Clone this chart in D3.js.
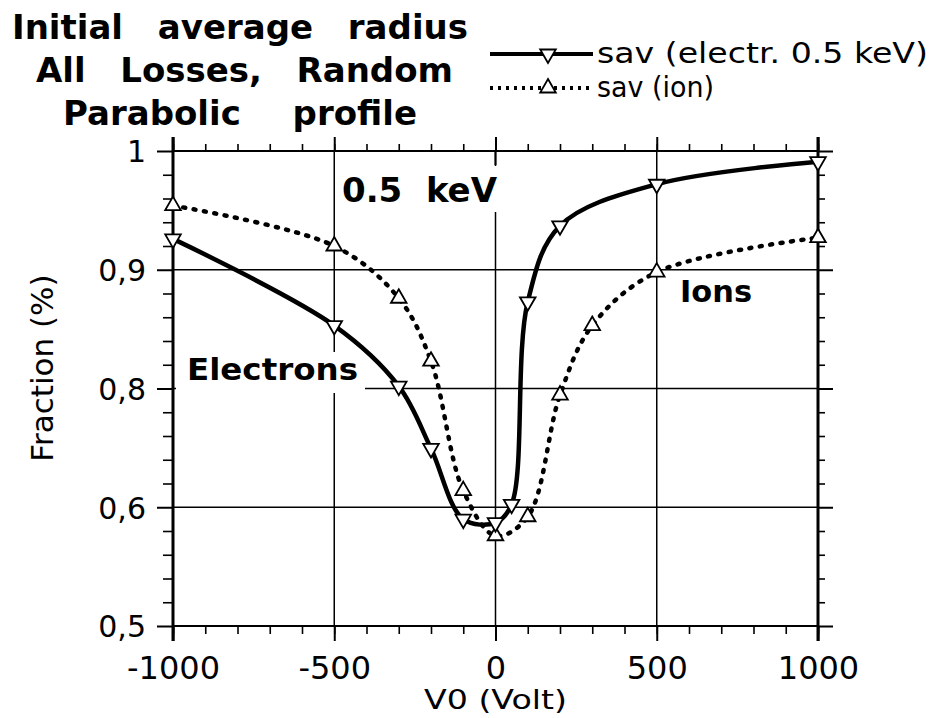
<!DOCTYPE html>
<html>
<head>
<meta charset="utf-8">
<script src="https://cdn.jsdelivr.net/npm/d3@7/dist/d3.min.js"></script>
<style>
  body { margin: 0; background: #fff; }
  svg { display: block; }
  text { fill: #000; }
</style>
</head>
<body>
<div id="chart"></div>
<script>
// V0 values the runs were done at
var volts_e = [-1000, -500, -300, -200, -100, 0, 50, 100, 200, 500, 1000];
var volts_i = [-1000, -500, -300, -200, -100, 0, 100, 200, 300, 500, 1000];
// fraction (in the units of the printed tick labels)
var frac_e = [0.926, 0.853, 0.802, 0.699, 0.590, 0.587, 0.605, 0.873, 0.937, 0.972, 0.991];
var frac_i = [0.954, 0.920, 0.876, 0.823, 0.628, 0.576, 0.592, 0.789, 0.853, 0.898, 0.927];

var x_ticks = [-1000, -500, 0, 500, 1000];
var y_ticks = [0.5, 0.6, 0.8, 0.9, 1];
var y_labels = ["0,5", "0,6", "0,8", "0,9", "1"];
var title_lines = ["Initial average radius", "All Losses, Random", "Parabolic profile"];
var legend_names = ["sav (electr. 0.5 keV)", "sav (ion)"];

var W = 931, H = 718;
var svg = d3.select("#chart").append("svg")
    .attr("width", W).attr("height", H);

// careful: "top" is taken by window.top
var p_left = 173, p_right = 818, p_top = 151, p_bottom = 626;

var x = d3.scaleLinear().domain([-1000, 1000]).range([p_left, p_right]);
// the printed axis skips 0,7 so labels sit at equal steps: piecewise scale
var y = d3.scaleLinear().domain(y_ticks)
    .range(d3.range(y_ticks.length).map(function(i){
	return p_bottom - i * (p_bottom - p_top) / (y_ticks.length - 1);
    }));

// minor ticks: 100 V steps, 5 subdivisions per labelled interval
var x_minor = d3.range(-1000, 1001, 100);
var y_minor = [];
for (var k = 0; k < y_ticks.length - 1; k++){
    var a = y_ticks[k], b = y_ticks[k + 1];
    for (var j = 1; j < 5; j++) y_minor.push(a + (b - a) * j / 5);
}

// grid
var grid = svg.append("g").attr("stroke", "#000").attr("stroke-width", 1.5);
[0.6, 0.8, 0.9].forEach(function(v){
    grid.append("line").attr("x1", p_left).attr("x2", p_right)
	.attr("y1", y(v)).attr("y2", y(v));
});
[-500, 0, 500].forEach(function(v){
    grid.append("line").attr("x1", x(v)).attr("x2", x(v))
	.attr("y1", p_top).attr("y2", p_bottom);
});

// white patches behind the in-plot labels (grid is broken there)
svg.append("rect").attr("x", 338).attr("y", 166).attr("width", 160).attr("height", 46)
    .attr("fill", "#fff");
svg.append("rect").attr("x", 176).attr("y", 352).attr("width", 189).attr("height", 41)
    .attr("fill", "#fff");

function style_axis(g, w){
    g.select(".domain").remove();
    g.selectAll("line").attr("stroke", "#000").attr("stroke-width", w);
}

// bottom
var gb = svg.append("g").attr("transform", "translate(0," + p_bottom + ")");
gb.call(d3.axisBottom(x).tickValues(x_minor).tickSize(8).tickFormat(""));
style_axis(gb, 1.6);
var gb2 = svg.append("g").attr("transform", "translate(0," + p_bottom + ")");
gb2.call(d3.axisBottom(x).tickValues(x_ticks).tickSize(15).tickPadding(15)
	 .tickFormat(function(d){ return d3.format("d")(d).replace("−", "-"); }));
style_axis(gb2, 2);
gb2.selectAll("text").attr("font-family", "DejaVu Sans").attr("font-size", 32)
    .attr("fill", "#000");

// top
var gt = svg.append("g").attr("transform", "translate(0," + p_top + ")");
gt.call(d3.axisTop(x).tickValues(x_minor).tickSize(7).tickFormat(""));
style_axis(gt, 1.6);
var gt2 = svg.append("g").attr("transform", "translate(0," + p_top + ")");
gt2.call(d3.axisTop(x).tickValues(x_ticks).tickSize(14).tickFormat(""));
style_axis(gt2, 2);
svg.append("line").attr("x1", x(0)).attr("x2", x(0)).attr("y1", p_top).attr("y2", p_top + 14)
    .attr("stroke", "#000").attr("stroke-width", 2);

// left
var gl = svg.append("g").attr("transform", "translate(" + p_left + ",0)");
gl.call(d3.axisLeft(y).tickValues(y_minor).tickSize(10).tickFormat(""));
style_axis(gl, 1.6);
var gl2 = svg.append("g").attr("transform", "translate(" + p_left + ",0)");
gl2.call(d3.axisLeft(y).tickValues(y_ticks).tickSize(16).tickPadding(11)
	 .tickFormat(function(d, i){ return y_labels[i]; }));
style_axis(gl2, 2);
gl2.selectAll("text").attr("font-family", "DejaVu Sans").attr("font-size", 30)
    .attr("fill", "#000").attr("dy", "0.36em");

// right
var gr = svg.append("g").attr("transform", "translate(" + p_right + ",0)");
gr.call(d3.axisRight(y).tickValues(y_minor).tickSize(7).tickFormat(""));
style_axis(gr, 1.6);
var gr2 = svg.append("g").attr("transform", "translate(" + p_right + ",0)");
gr2.call(d3.axisRight(y).tickValues(y_ticks).tickSize(15).tickFormat(""));
style_axis(gr2, 2);

// frame
var frame = svg.append("g").attr("stroke", "#000");
frame.append("line").attr("x1", p_left).attr("x2", p_left).attr("y1", p_top - 14).attr("y2", p_bottom + 15)
    .attr("stroke-width", 3);
frame.append("line").attr("x1", p_right).attr("x2", p_right).attr("y1", p_top - 14).attr("y2", p_bottom + 15)
    .attr("stroke-width", 3);
frame.append("line").attr("x1", p_left).attr("x2", p_right).attr("y1", p_top).attr("y2", p_top)
    .attr("stroke-width", 2.2);
frame.append("line").attr("x1", p_left).attr("x2", p_right).attr("y1", p_bottom).attr("y2", p_bottom)
    .attr("stroke-width", 2.2);

// curves
var line = d3.line()
    .x(function(d){ return x(d[0]); })
    .y(function(d){ return y(d[1]); })
    .curve(d3.curveCatmullRom.alpha(0.5));

var elec = d3.zip(volts_e, frac_e);
var ions = d3.zip(volts_i, frac_i);

svg.append("path").datum(ions).attr("d", line)
    .attr("fill", "none").attr("stroke", "#000").attr("stroke-width", 4.5)
    .attr("stroke-linecap", "round").attr("stroke-dasharray", "2 8.5");
svg.append("path").datum(elec).attr("d", line)
    .attr("fill", "none").attr("stroke", "#000").attr("stroke-width", 4.5);

var tri = d3.symbol().type(d3.symbolTriangle).size(105);

function markers(data, down){
    svg.append("g").selectAll("path").data(data).join("path")
	.attr("d", tri)
	.attr("transform", function(d){
	    return "translate(" + x(d[0]) + "," + y(d[1]) + ")" + (down ? " rotate(180)" : "");
	})
	.attr("fill", "#fff").attr("stroke", "#000").attr("stroke-width", 1.8);
}
markers(ions, false);
markers(elec, true);

// in-plot labels
svg.append("text").attr("x", 342).attr("y", 202).text("0.5  keV")
    .attr("font-family", "DejaVu Sans").attr("font-weight", "bold").attr("font-size", 34)
    .style("white-space", "pre");
svg.append("text").attr("x", 187).attr("y", 380).text("Electrons")
    .attr("font-family", "DejaVu Sans").attr("font-weight", "bold").attr("font-size", 31)
    .attr("textLength", 171).attr("lengthAdjust", "spacingAndGlyphs");
svg.append("text").attr("x", 680).attr("y", 302).text("Ions")
    .attr("font-family", "DejaVu Sans").attr("font-weight", "bold").attr("font-size", 31)
    .attr("textLength", 72).attr("lengthAdjust", "spacingAndGlyphs");

// axis titles
svg.append("text").attr("x", x(0)).attr("y", 709).attr("text-anchor", "middle")
    .text("V0 (Volt)").attr("font-family", "DejaVu Sans").attr("font-size", 27)
    .attr("textLength", 143).attr("lengthAdjust", "spacingAndGlyphs");
svg.append("text").attr("transform", "translate(53,368) rotate(-90)")
    .attr("text-anchor", "middle").text("Fraction (%)")
    .attr("font-family", "DejaVu Sans").attr("font-size", 31);

// title: spread the words out to the measured widths
var title_box = [[12, 468, 39], [36, 453, 82], [63, 417, 125]];
title_lines.forEach(function(s, i){
    var b = title_box[i];
    var t = svg.append("text").attr("x", b[0]).attr("y", b[2]).text(s)
	.attr("font-family", "DejaVu Sans").attr("font-weight", "bold").attr("font-size", 34);
    var len = t.node().getComputedTextLength();
    var gaps = s.split(" ").length - 1;
    if (gaps > 0) t.attr("word-spacing", (b[1] - b[0] - len) / gaps);
});

// legend
var leg = svg.append("g");
[0, 1].forEach(function(i){
    var ly = i == 0 ? 54 : 88;
    var row = leg.append("g");
    var l = row.append("line").attr("x1", 490).attr("x2", 593).attr("y1", ly).attr("y2", ly)
	.attr("stroke", "#000").attr("stroke-width", 4);
    if (i == 1) l.attr("stroke-dasharray", "3 5");
    row.append("path").attr("d", tri)
	.attr("transform", "translate(548," + ly + ")" + (i == 0 ? " rotate(180)" : ""))
	.attr("fill", "#fff").attr("stroke", "#000").attr("stroke-width", 1.8);
    var t = row.append("text").attr("x", 597).attr("y", i == 0 ? 63 : 97).text(legend_names[i])
	.attr("font-family", "DejaVu Sans").attr("font-size", 29);
    t.attr("textLength", i == 0 ? 331 : 117).attr("lengthAdjust", "spacingAndGlyphs");
});
</script>
</body>
</html>
